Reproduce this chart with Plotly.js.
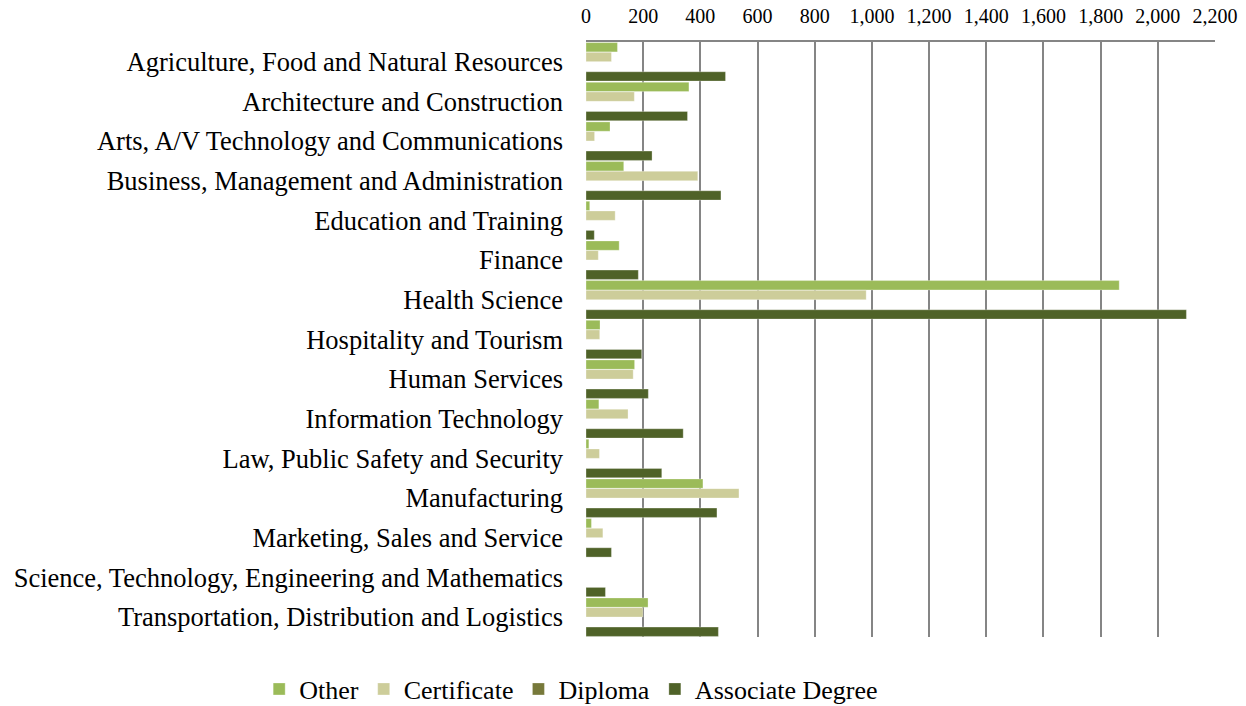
<!DOCTYPE html>
<html>
<head>
<meta charset="utf-8">
<script src="https://cdn.plot.ly/plotly-3.0.1.min.js"></script>
<style>html,body{margin:0;padding:0;background:#fff;}#chart{width:1246px;height:706px;}</style>
</head>
<body>
<div id="chart"></div>
<script>
const categories = [
  "Agriculture, Food and Natural Resources",
  "Architecture and Construction",
  "Arts, A/V Technology and Communications",
  "Business, Management and Administration",
  "Education and Training",
  "Finance",
  "Health Science",
  "Hospitality and Tourism",
  "Human Services",
  "Information Technology",
  "Law, Public Safety and Security",
  "Manufacturing",
  "Marketing, Sales and Service",
  "Science, Technology, Engineering and Mathematics",
  "Transportation, Distribution and Logistics"
];
const other       = [110, 360, 84, 132, 13, 116, 1865, 49, 170, 45, 10, 409, 19, 0, 217];
const certificate = [89, 169, 30, 391, 102, 43, 980, 48, 165, 147, 47, 535, 59, 0, 199];
const diploma     = [0, 0, 0, 0, 0, 0, 0, 0, 0, 0, 0, 0, 0, 0, 0];
const associate   = [488, 355, 231, 472, 29, 183, 2100, 195, 218, 340, 265, 458, 89, 68, 463];
const xTicks = [0, 200, 400, 600, 800, 1000, 1200, 1400, 1600, 1800, 2000, 2200];

const series = [
  {name: "Other", x: other, color: "#9BBB59"},
  {name: "Certificate", x: certificate, color: "#CDCD9A"},
  {name: "Diploma", x: diploma, color: "#77793A"},
  {name: "Associate Degree", x: associate, color: "#4F6228"}
];

const traces = series.map(s => ({
  type: "bar",
  orientation: "h",
  name: s.name,
  y: categories,
  x: s.x,
  marker: {color: s.color, line: {color: "rgba(255,255,255,0.6)", width: 0.5}},
  hoverinfo: "x+name"
}));

const font = "'Liberation Serif', 'Times New Roman', serif";

const layout = {
  width: 1246,
  height: 706,
  margin: {l: 586, r: 31, t: 42, b: 69},
  paper_bgcolor: "#fff",
  plot_bgcolor: "#fff",
  barmode: "group",
  bargap: 0.02,
  bargroupgap: 0.04,
  font: {family: font, size: 26, color: "#000"},
  showlegend: true,
  legend: {
    orientation: "h",
    xref: "container",
    yref: "container",
    x: 0.208,
    xanchor: "left",
    y: 0.024,
    yanchor: "middle",
    font: {family: font, size: 26, color: "#000"},
    traceorder: "normal",
    itemwidth: 30
  },
  xaxis: {
    side: "top",
    range: [0, 2200],
    tickvals: xTicks,
    tickformat: ",d",
    showgrid: true,
    gridcolor: "#858585",
    gridwidth: 2,
    zeroline: false,
    showline: true,
    linecolor: "#858585",
    linewidth: 2,
    ticks: "",
    ticklabelstandoff: 9,
    tickfont: {family: font, size: 20, color: "#000"},
    fixedrange: true
  },
  yaxis: {
    type: "category",
    autorange: "reversed",
    showgrid: false,
    zeroline: false,
    showline: false,
    ticks: "",
    ticklabelstandoff: 22,
    tickfont: {family: font, size: 26.5, color: "#000"},
    fixedrange: true
  }
};

Plotly.newPlot("chart", traces, layout, {displayModeBar: false, staticPlot: true});
</script>
</body>
</html>
